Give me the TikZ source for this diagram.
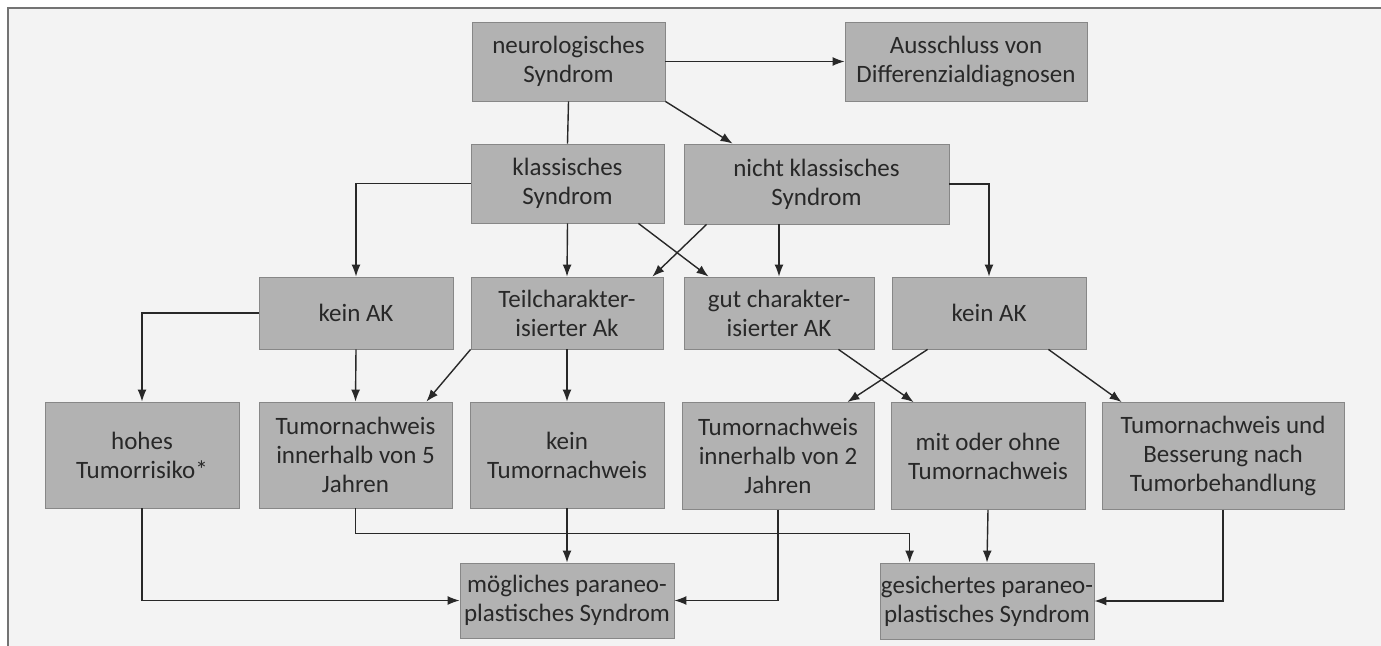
\documentclass[tikz,border=0pt]{standalone}
\usepackage{fontspec}
\setmainfont{Carlito}
\usetikzlibrary{arrows.meta}
\definecolor{boxgray}{RGB}{178,178,178}
\definecolor{boxline}{RGB}{135,135,135}
\definecolor{pagegray}{RGB}{243,243,243}
\definecolor{inkgray}{RGB}{40,40,40}
\tikzset{
  ppbox/.style={draw=boxline, fill=boxgray, align=center, inner sep=0pt,
    text=inkgray, font=\fontsize{12.5}{14.5}\selectfont},
  ppline/.style={draw=inkgray, line width=0.7pt},
  pparrow/.style={ppline, -{Latex[length=6pt,width=4.5pt]}}
}

\begin{document}
\begin{tikzpicture}[x=0.5pt,y=-0.5pt]
  \useasboundingbox (0,0) rectangle (1381,646);
  \fill[pagegray] (8,8) rectangle (1381,646);
  \draw[black!55, line width=1.2pt] (8,646) -- (8,8) -- (1381,8);

  % first rows
  \node[ppbox, minimum width=96.5pt, minimum height=39.5pt] (neuro) at (568.5,61.5) {neurologisches\\Syndrom};
  \node[ppbox, minimum width=121pt, minimum height=39.5pt] (aus) at (966,61.5) {Ausschluss von\\Differenzialdiagnosen};
  \node[ppbox, minimum width=96.5pt, minimum height=39.5pt] (klass) at (567.5,183.5) {klassisches\\Syndrom};
  \node[ppbox, minimum width=132.5pt, minimum height=40pt] (nklass) at (816.5,184) {nicht klassisches\\Syndrom};

  % antibodies
  \node[ppbox, minimum width=97pt, minimum height=36pt] (keinakl) at (356,313) {kein AK};
  \node[ppbox, minimum width=96pt, minimum height=36pt] (teilak) at (567,313) {Teilcharakter-\\isierter Ak};
  \node[ppbox, minimum width=95pt, minimum height=36pt] (gutak) at (779,313) {gut charakter-\\isierter AK};
  \node[ppbox, minimum width=97pt, minimum height=36pt] (keinakr) at (989,313) {kein AK};

  % tumour findings
  \node[ppbox, minimum width=97pt, minimum height=53pt] (hohes) at (142,455) {hohes\\Tumorrisiko*};
  \node[ppbox, minimum width=96.5pt, minimum height=53pt] (tnfuenf) at (355.5,455) {Tumornachweis\\innerhalb von 5\\Jahren};
  \node[ppbox, minimum width=97pt, minimum height=53pt] (keintn) at (567,455) {kein\\Tumornachweis};
  \node[ppbox, minimum width=96pt, minimum height=53.5pt] (tnzwei) at (778,456) {Tumornachweis\\innerhalb von 2\\Jahren};
  \node[ppbox, minimum width=97pt, minimum height=53.5pt] (mitohne) at (988,456) {mit oder ohne\\Tumornachweis};
  \node[ppbox, minimum width=121pt, minimum height=53.5pt] (tnbess) at (1223,456) {Tumornachweis und\\Besserung nach\\Tumorbehandlung};

  % result
  \node[ppbox, minimum width=107pt, minimum height=37.5pt] (moegl) at (567,600.5) {mögliches paraneo-\\plastisches Syndrom};
  \node[ppbox, minimum width=107pt, minimum height=38pt] (gesich) at (987,601) {gesichertes paraneo-\\plastisches Syndrom};

  \draw[pparrow] (neuro) -- (aus);
  \draw[ppline] (neuro.south) -- (klass.north);
  \draw[pparrow] (neuro.south east) -- ([xshift=24.5pt]nklass.north west);

  \draw[pparrow] (klass.west) -| (keinakl.north);
  \draw[pparrow] (klass.south) -- (teilak.north);
  \draw[pparrow] ([xshift=-13pt]klass.south east) -- ([xshift=12.5pt]gutak.north west);
  \draw[pparrow] ([xshift=11.5pt]nklass.south west) -- ([xshift=-5.5pt]teilak.north east);
  \draw[pparrow] (nklass.south -| gutak.north) -- (gutak.north);
  \draw[pparrow] (nklass.east) -| (keinakr.north);

  \draw[pparrow] (keinakl.west) -| (hohes.north);
  \draw[pparrow] (keinakl.south) -- (tnfuenf.north);
  \draw[pparrow] (teilak.south west) -- ([xshift=-13pt]tnfuenf.north east);
  \draw[pparrow] (teilak.south) -- (keintn.north);
  \draw[pparrow] ([xshift=-18pt]gutak.south east) -- ([xshift=11.5pt]mitohne.north west);
  \draw[pparrow] ([xshift=18pt]keinakr.south west) -- ([xshift=-13.5pt]tnzwei.north east);
  \draw[pparrow] ([xshift=-19pt]keinakr.south east) -- ([xshift=10pt]tnbess.north west);

  \draw[pparrow] (hohes.south) |- (moegl.west);
  \draw[pparrow] (keintn.south) -- (moegl.north);
  \draw[pparrow] (tnfuenf.south) -- ++(0,25) -| ([xshift=15pt]gesich.north west);
  \draw[pparrow] (mitohne.south) -- (gesich.north);
  \draw[pparrow] (tnzwei.south) |- (moegl.east);
  \draw[pparrow] (tnbess.south) |- (gesich.east);
\end{tikzpicture}
\end{document}
